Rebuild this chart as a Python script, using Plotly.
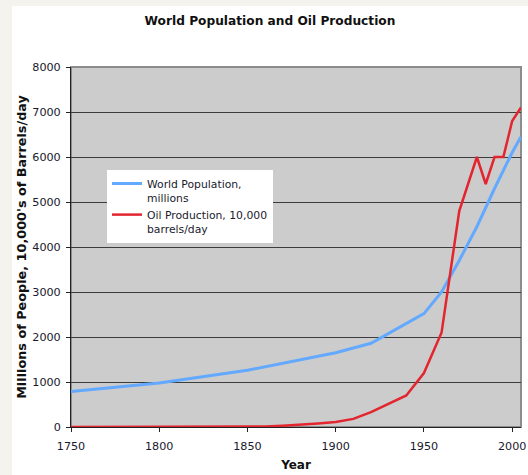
import plotly.graph_objects as go

# World population (millions)
pop_years = [1750, 1800, 1850, 1900, 1920, 1950, 1960, 1970, 1980, 1990, 2000, 2005]
pop_values = [791, 978, 1262, 1650, 1860, 2520, 3000, 3700, 4450, 5300, 6100, 6450]

# Oil production (10,000 barrels/day)
oil_years = [1750, 1800, 1850, 1860, 1870, 1880, 1890, 1900, 1910, 1920, 1930, 1940,
             1950, 1960, 1970, 1980, 1985, 1990, 1995, 2000, 2005]
oil_values = [0, 0, 0, 10, 30, 50, 80, 110, 180, 330, 520, 700,
              1200, 2100, 4800, 6000, 5400, 6000, 6000, 6800, 7100]

x_ticks = [1750, 1800, 1850, 1900, 1950, 2000]
y_ticks = [0, 1000, 2000, 3000, 4000, 5000, 6000, 7000, 8000]

W, H = 528, 475
L, R, T, B = 71, 7, 67, 48
pw, ph = W - L - R, H - T - B


def px_to_paper_x(px):
    return (px - L) / pw


def px_to_paper_y(py):
    return (H - B - py) / ph


FONT = "DejaVu Sans"
TXT = "#1a1a2e"

fig = go.Figure()
fig.add_trace(go.Scatter(
    x=pop_years, y=pop_values, mode="lines",
    name="World Population,<br>millions",
    line=dict(color="#62a9ff", width=3),
))
fig.add_trace(go.Scatter(
    x=oil_years, y=oil_values, mode="lines",
    name="Oil Production, 10,000<br>barrels/day",
    line=dict(color="#e2252f", width=2.5),
))

shapes = [
    # white chart card
    dict(type="rect", xref="paper", yref="paper", layer="below",
         x0=px_to_paper_x(12), x1=px_to_paper_x(W + 5),
         y0=px_to_paper_y(H + 5), y1=px_to_paper_y(6),
         fillcolor="white", line=dict(width=0)),
    # grey plot area with grey frame
    dict(type="rect", xref="paper", yref="paper", layer="below",
         x0=0, x1=1, y0=0, y1=1,
         fillcolor="#cccccc", line=dict(color="#8c8c8c", width=2)),
]

fig.update_layout(
    width=W, height=H,
    margin=dict(l=L, r=R, t=T, b=B),
    paper_bgcolor="#f4f3ee",
    plot_bgcolor="rgba(0,0,0,0)",
    shapes=shapes,
    title=dict(text="<b>World Population and Oil Production</b>",
               x=px_to_paper_x(270), xref="paper", xanchor="center",
               y=1 - 20.5 / H, yanchor="middle",
               font=dict(family=FONT, size=12.2, color="#111111")),
    font=dict(family=FONT, size=11.2, color=TXT),
    showlegend=True,
    legend=dict(x=px_to_paper_x(107), y=px_to_paper_y(170),
                xanchor="left", yanchor="top",
                bgcolor="white", borderwidth=0,
                valign="top", tracegroupgap=2, itemwidth=30,
                font=dict(family=FONT, size=10.8, color=TXT)),
    xaxis=dict(range=[1750, 2005], tickvals=x_ticks,
               showgrid=False, zeroline=False, automargin=False,
               showline=True, linecolor="#222222", linewidth=1,
               ticks="outside", ticklen=4, tickcolor="#222222",
               ticklabelstandoff=5,
               tickfont=dict(family=FONT, size=11.2, color=TXT),
               title=dict(text="<b>Year</b>", standoff=8,
                          font=dict(family=FONT, size=12, color="#111111"))),
    yaxis=dict(range=[0, 8000], tickvals=y_ticks,
               showgrid=True, gridcolor="#3c3c3c", gridwidth=1,
               zeroline=False, automargin=False,
               showline=True, linecolor="#222222", linewidth=1,
               ticks="outside", ticklen=4, tickcolor="#222222",
               ticklabelstandoff=3,
               tickfont=dict(family=FONT, size=11.2, color=TXT),
               title=dict(text="<b>Millions of People, 10,000's of Barrels/day</b>",
                          standoff=2,
                          font=dict(family=FONT, size=12.8, color="#111111"))),
)

fig.write_html("out.html")
